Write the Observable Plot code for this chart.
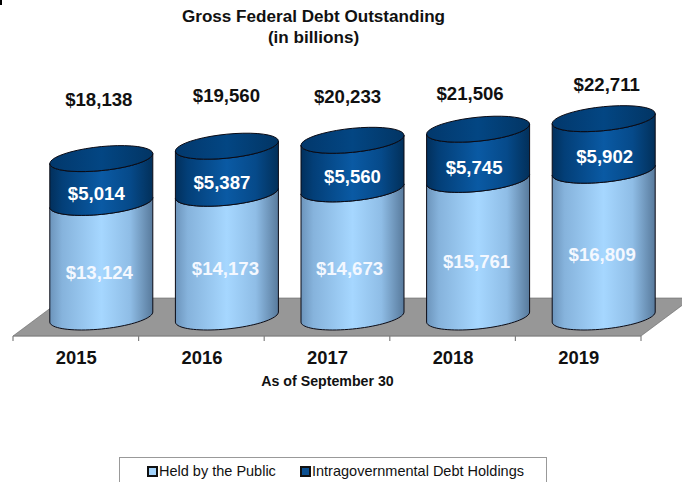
<!DOCTYPE html>
<html><head><meta charset="utf-8">
<script src="https://cdn.jsdelivr.net/npm/d3@7"></script>
<script src="https://cdn.jsdelivr.net/npm/@observablehq/plot@0.6"></script>
<style>
html,body{margin:0;padding:0;background:#fff;overflow:hidden;width:682px;height:482px;font-family:"Liberation Sans",Arial,sans-serif;position:relative}
#title{width:627px;height:50px;text-align:center;font-weight:bold;font-size:17.1px;line-height:21px;padding-top:6px;box-sizing:border-box;color:#111}
#chart svg{display:block}
#legend{position:absolute;left:119px;top:457px;width:428px;height:25px;border:1px solid #999;border-bottom:none;box-sizing:border-box;font-size:14.5px;color:#111}
.item{position:absolute;top:5px;line-height:16px;white-space:nowrap}
.sw{display:inline-block;width:7px;height:7px;border:2px solid #111;margin-right:1px;vertical-align:-0.5px}
#mark{position:absolute;left:0;top:0;width:2px;height:5px;background:#000}
</style></head>
<body>
<div id="mark"></div>
<div id="title">Gross Federal Debt Outstanding<br>(in billions)</div>
<div id="chart"></div>
<div id="legend">
  <span class="item" style="left:27px"><span class="sw" style="background:#a3d3fb"></span>Held by the Public</span>
  <span class="item" style="left:180px"><span class="sw" style="background:#0a4f91"></span>Intragovernmental Debt Holdings</span>
</div>
<script>
const years = ["2015","2016","2017","2018","2019"];
const heldByPublic = [13124,14173,14673,15761,16809];
const intragov = [5014,5387,5560,5745,5902];
const totals = [18138,19560,20233,21506,22711];
const money = v => "$" + d3.format(",")(v);

// layout offsets of hand-placed labels in the reference (pixels from band centre / value position)
const publicDx = [23,23.5,22,23.5,23.5], publicDy = [13,13,16,13,11];
const intraDx  = [20,20,25,21,26], intraDy  = [13,13,12,13,12];
const totalDx  = [22.5,24.5,20,17,28], totalDy  = [-59,-51,-44,-36,-34];

const depthX = 51, depthY = 38, halfW = 51.5, tilt = 5, minor = 12;

const arc = (cx, cy, from, to) => d3.range(0, 41).map(i => {
  const t = from + (to - from) * i / 40;
  return [cx + halfW * Math.cos(t), cy + minor * Math.sin(t) - tilt * Math.cos(t)];
});
const toPath = pts => "M" + pts.map(p => p[0].toFixed(2) + "," + p[1].toFixed(2)).join("L");

const rows = years.map((year, i) => ({year, lo: 0, hi: heldByPublic[i], top: false}));
const rowsTop = years.map((year, i) => ({year, lo: heldByPublic[i], hi: totals[i], top: true}));

function renderCylinders(data, fill) {
  return (index, scales) => {
    const g = d3.create("svg:g");
    for (const i of index) {
      const r = data[i];
      const cx = scales.x(r.year) + scales.x.bandwidth() / 2 + depthX / 2;
      const lo = scales.y(r.lo), hi = scales.y(r.hi);
      g.append("path").attr("d", toPath(arc(cx, lo, Math.PI, 0).concat(arc(cx, hi, 0, Math.PI))) + "Z")
        .attr("fill", `url(#${fill})`).attr("stroke", "#0a0a14").attr("stroke-width", 1);
      if (r.top) {
        g.append("path").attr("d", toPath(arc(cx, hi, 0, 2 * Math.PI)) + "Z")
          .attr("fill", "url(#gCap)").attr("stroke", "#0a0a14").attr("stroke-width", 1);
      }
    }
    return g.node();
  };
}

const defs = () => {
  const d = d3.create("svg:defs");
  const grad = (id, stops) => {
    const g = d.append("linearGradient").attr("id", id);
    stops.forEach(([o, c]) => g.append("stop").attr("offset", o).attr("stop-color", c));
  };
  grad("gPublic", [[0,"#6c94bb"],[0.12,"#86b3dc"],[0.5,"#a6d7ff"],[0.78,"#8fbde6"],[1,"#587a9c"]]);
  grad("gIntra", [[0,"#02305c"],[0.12,"#033f78"],[0.5,"#0a5aa4"],[0.78,"#064a8a"],[1,"#02305a"]]);
  grad("gCap", [[0,"#02386c"],[0.5,"#034683"],[1,"#023564"]]);
  return d.node();
};

const floor = (index, scales, values, dims) => {
  const g = d3.create("svg:g");
  const f = dims.height - dims.marginBottom;
  const bw = scales.x.bandwidth();
  const x0 = scales.x(years[0]), x1 = scales.x(years[years.length - 1]) + bw;
  g.append("path")
    .attr("d", `M${x0},${f}L${x0 + depthX},${f - depthY}L${x1 + depthX},${f - depthY}L${x1},${f}Z`)
    .attr("fill", "#979797").attr("stroke", "#666").attr("stroke-width", 0.6);
  g.append("path").attr("d", `M${x0},${f}H${x1}`).attr("stroke", "#888").attr("stroke-width", 1.2);
  years.concat("end").forEach((y, i) => {
    const x = i < years.length ? scales.x(y) : x1;
    g.append("path").attr("d", `M${x},${f}V${f + 5}`).attr("stroke", "#808080").attr("stroke-width", 1.2);
  });
  return g.node();
};

const labelMarks = (vals, texts, dxs, dys, fill, size) => years.map((year, i) =>
  Plot.text([i], {x: () => year, y: () => vals[i], text: () => texts[i], dx: dxs[i], dy: dys[i],
    fill, fontSize: size, fontWeight: "bold", fontFamily: "Liberation Sans, Arial, sans-serif", textAnchor: "middle"}));

const plot = Plot.plot({
  width: 682, height: 407,
  marginLeft: 13, marginRight: 41, marginTop: 0, marginBottom: 121,
  x: {domain: years, padding: 0, round: false, label: null},
  y: {domain: [0, 30000], range: [267, 5], label: null, axis: null},
  style: {background: "transparent", overflow: "hidden"},
  marks: [
    defs,
    floor,
    Plot.axisX({tickSize: 0, tickPadding: 14, label: null, fontSize: 18.4, fontWeight: "bold",
      fontFamily: "Liberation Sans, Arial, sans-serif", fill: "#111"}),
    Plot.text(["As of September 30"], {frameAnchor: "bottom", dy: 49, text: d => d, fontSize: 14.2,
      fontWeight: "bold", fontFamily: "Liberation Sans, Arial, sans-serif", fill: "#111"}),
    Plot.barY(rows, {x: "year", y1: "lo", y2: "hi", render: renderCylinders(rows, "gPublic")}),
    Plot.barY(rowsTop, {x: "year", y1: "lo", y2: "hi", render: renderCylinders(rowsTop, "gIntra")}),
    ...labelMarks(heldByPublic.map(v => v / 2), heldByPublic.map(money), publicDx, publicDy, "#f4f8ff", 18.6),
    ...labelMarks(intragov.map((v, i) => heldByPublic[i] + v / 2), intragov.map(money), intraDx, intraDy, "#fff", 18.6),
    ...labelMarks(totals, totals.map(money), totalDx, totalDy, "#111", 18.6)
  ]
});
document.getElementById("chart").appendChild(plot);
</script>
</body></html>
